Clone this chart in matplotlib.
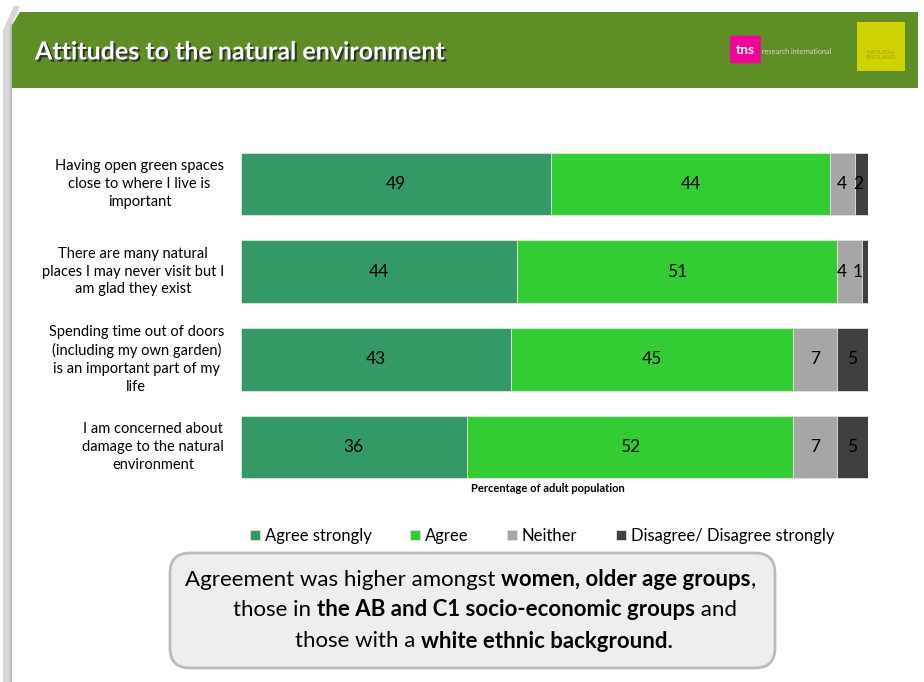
import numpy as np
import matplotlib
matplotlib.use("Agg")
import matplotlib.pyplot as plt
import matplotlib.patheffects as pe
from matplotlib.patches import Polygon, Rectangle, FancyBboxPatch
from matplotlib.transforms import blended_transform_factory

plt.rcParams['font.family'] = ['Lato', 'DejaVu Sans']

# survey results (% of adults)
statements = [
    "Having open green spaces\nclose to where I live is\nimportant",
    "There are many natural\nplaces I may never visit but I\nam glad they exist",
    "Spending time out of doors\n(including my own garden)\nis an important part of my\nlife",
    "I am concerned about\ndamage to the natural\nenvironment",
]
agree_strongly = [49, 44, 43, 36]
agree = [44, 51, 45, 52]
neither = [4, 4, 7, 7]
disagree = [2, 1, 5, 5]

series_names = ["Agree strongly", "Agree", "Neither", "Disagree/ Disagree strongly"]
series_colors = ["#339966", "#33CC33", "#A6A6A6", "#404040"]

W, H = 924, 682
fig = plt.figure(figsize=(W / 100, H / 100), dpi=100)


def fx(x):
    return x / W


def fy(y):
    return 1 - y / H


# slide edge on the left
fig.patches.append(Polygon([(fx(3), fy(682)), (fx(3), fy(30)), (fx(14), fy(6)),
                            (fx(20), fy(6)), (fx(12), fy(24)), (fx(12), fy(682))],
                           closed=True, transform=fig.transFigure,
                           facecolor="#D6D6D6", edgecolor="none"))
fig.patches.append(Rectangle((fx(10), fy(682)), fx(2), fy(24) - fy(682),
                             transform=fig.transFigure, facecolor="#BDBDBD",
                             edgecolor="none"))

# title banner
fig.patches.append(Polygon([(fx(12), fy(88)), (fx(12), fy(25)), (fx(20), fy(12)),
                            (fx(918), fy(12)), (fx(918), fy(88))],
                           closed=True, transform=fig.transFigure,
                           facecolor="#5F8E27", edgecolor="none"))
fig.text(fx(35), fy(52), "Attitudes to the natural environment", color="white",
         fontsize=18, fontweight="bold", va="center", ha="left",
         path_effects=[pe.withSimplePatchShadow(offset=(1.5, -1.5),
                                                shadow_rgbFace="#2A2A2A", alpha=0.9)])

# logos
fig.patches.append(FancyBboxPatch((fx(732), fy(62)), fx(27), fy(37) - fy(62),
                                  boxstyle="round,pad=0.002", transform=fig.transFigure,
                                  facecolor="#F2049B", edgecolor="none"))
fig.text(fx(745), fy(50), "tns", color="white", fontsize=10, fontweight="bold",
         ha="center", va="center")
fig.text(fx(762), fy(52), "research international", color="#D8D8D8", fontsize=5.2,
         ha="left", va="center")
fig.patches.append(Rectangle((fx(857), fy(71)), fx(48), fy(22) - fy(71),
                             transform=fig.transFigure, facecolor="#CFD300",
                             edgecolor="none"))
fig.text(fx(881), fy(55), "NATURAL\nENGLAND", color="#A59A2A", fontsize=4.6,
         ha="center", va="center", linespacing=1.1)

# stacked bars
ax = fig.add_axes([fx(241), fy(491), fx(868) - fx(241), fy(140) - fy(491)])
data = np.array([agree_strongly, agree, neither, disagree], dtype=float)
shares = data / data.sum(axis=0) * 100
starts = np.cumsum(shares, axis=0) - shares
ypos = np.arange(len(statements))
for vals, lefts, name, color in zip(shares, starts, series_names, series_colors):
    ax.barh(ypos, vals, left=lefts, height=0.71, color=color, edgecolor="#E2E2E2",
            linewidth=0.6, label=name)

# value labels, pushed left where the end segments are too thin
for j, y in enumerate(ypos):
    centers = starts[:, j] + shares[:, j] / 2
    xs = centers.copy()
    xs[-1] = min(xs[-1], 98.4)
    for i in range(len(xs) - 2, -1, -1):
        xs[i] = min(xs[i], xs[i + 1] - 2.6)
    for x, r in zip(xs, data[:, j]):
        ax.text(x, y, f"{r:.0f}", ha="center", va="center", fontsize=12.5,
                color="black")

ax.set_xlim(0, 100)
ax.set_ylim(len(statements) - 0.5, -0.5)
ax.set_xticks([])
ax.set_yticks([])
for s in ax.spines.values():
    s.set_visible(False)

label_tr = blended_transform_factory(fig.transFigure, ax.transData)
for y, txt in zip(ypos, statements):
    ax.text(fx(224), y, txt, transform=label_tr, ha="right", va="center",
            multialignment="center", fontsize=10.5, linespacing=1.35)

fig.text(fx(548), fy(489), "Percentage of adult population", fontsize=8,
         fontweight="bold", ha="center", va="center")

handles, labels = ax.get_legend_handles_labels()
fig.legend(handles, labels, loc="center", bbox_to_anchor=(fx(542), fy(536)), ncol=4,
           frameon=False, fontsize=12, handlelength=0.6, handleheight=0.6,
           handletextpad=0.3, columnspacing=2.3)

# note box
fig.patches.append(FancyBboxPatch((1.90, 0.34), 7.75 - 1.70 - 0.40, 1.29 - 0.14 - 0.40,
                                  boxstyle="round,pad=0.2",
                                  transform=fig.dpi_scale_trans,
                                  facecolor="#EEEEEE", edgecolor="#BBBBBB", linewidth=2))

note_lines = [
    (470, 580, [("Agreement was higher amongst ", "normal"),
                ("women, older age groups", "bold"), (",", "normal")]),
    (485, 610, [("those in ", "normal"), ("the AB and C1 socio-economic groups", "bold"),
                (" and", "normal")]),
    (484, 641, [("those with a ", "normal"), ("white ethnic background.", "bold")]),
]
renderer = fig.canvas.get_renderer()
for cx, cy, parts in note_lines:
    pieces = [fig.text(0, fy(cy), t, fontsize=16, fontweight=w, va="center", ha="left")
              for t, w in parts]
    widths = [p.get_window_extent(renderer).width for p in pieces]
    x = cx - sum(widths) / 2
    for p, w in zip(pieces, widths):
        p.set_x(fx(x))
        x += w

fig.savefig("out.png", dpi=100)
